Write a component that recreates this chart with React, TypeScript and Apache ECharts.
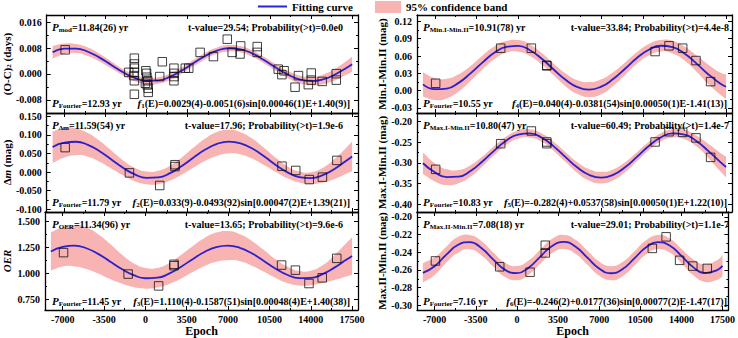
import React, { useEffect, useRef } from "react";
import * as echarts from "echarts";

const SERIF = '"Liberation Serif", "Times New Roman", Times, serif';
const CURVE_COLOR = "#2c1fcc";
const BAND_COLOR = "#f8b3b3";

// ---- fitted curves ----
const curveEpochs = [-8000, -7000, -6000, -5000, -4000, -3000, -2000, -1000, 0, 1000, 2000, 3000, 4000, 5000, 6000, 7000, 8000, 9000, 10000, 11000, 12000, 13000, 14000, 15000, 16000, 17000, 17500];

const fitOC = [0.00677, 0.00784, 0.00789, 0.0069, 0.00507, 0.0028, 0.00055, -0.00122, -0.00213, -0.00199, -0.00084, 0.00109, 0.0034, 0.0056, 0.00725, 0.00798, 0.00766, 0.00634, 0.00433, 0.002, -0.00013, -0.00164, -0.0022, -0.0017, -0.00025, 0.00186, 0.00303];
const bandOC = [0.0019, 0.0016, 0.0014, 0.0013, 0.0012, 0.0011, 0.001, 0.001, 0.001, 0.001, 0.001, 0.001, 0.001, 0.001, 0.001, 0.001, 0.001, 0.001, 0.001, 0.001, 0.0011, 0.0012, 0.0013, 0.0015, 0.0018, 0.0021, 0.0023];

const fitDm = [0.0674, 0.0797, 0.0818, 0.0734, 0.0562, 0.034, 0.0116, -0.0062, -0.0155, -0.0143, -0.0028, 0.0165, 0.0393, 0.0607, 0.0762, 0.0823, 0.0777, 0.0634, 0.0425, 0.0195, -0.0005, -0.0132, -0.016, -0.0081, 0.0087, 0.0308, 0.0423];
const bandDm = [0.042, 0.04, 0.036, 0.032, 0.028, 0.024, 0.02, 0.018, 0.017, 0.018, 0.02, 0.023, 0.027, 0.03, 0.032, 0.032, 0.03, 0.027, 0.023, 0.019, 0.016, 0.015, 0.016, 0.02, 0.027, 0.035, 0.04];

const fitOER = [1.2124, 1.2568, 1.2681, 1.2435, 1.1889, 1.1163, 1.0424, 0.9837, 0.9536, 0.9589, 0.9982, 1.063, 1.1381, 1.2071, 1.2542, 1.2685, 1.2472, 1.1947, 1.1232, 1.0487, 0.988, 0.9549, 0.9569, 0.9935, 1.0563, 1.1314, 1.1682];
const bandOER = [0.185, 0.19, 0.2, 0.2, 0.19, 0.17, 0.14, 0.115, 0.1, 0.095, 0.1, 0.115, 0.125, 0.135, 0.14, 0.14, 0.13, 0.12, 0.105, 0.09, 0.08, 0.07, 0.07, 0.085, 0.12, 0.16, 0.18];

const fitMinMin = [0.0108, 0.0026, 0.0036, 0.0135, 0.0299, 0.0487, 0.0655, 0.0759, 0.0776, 0.0701, 0.0552, 0.0366, 0.0188, 0.0062, 0.0019, 0.0069, 0.0201, 0.038, 0.0565, 0.0708, 0.0778, 0.0754, 0.0644, 0.0473, 0.0285, 0.0125, 0.0068];
const bandMinMin = [0.021, 0.019, 0.017, 0.015, 0.013, 0.012, 0.011, 0.01, 0.01, 0.01, 0.01, 0.01, 0.011, 0.012, 0.013, 0.013, 0.012, 0.011, 0.01, 0.01, 0.01, 0.011, 0.012, 0.014, 0.017, 0.019, 0.021];

const fitMaxMinI = [-0.301, -0.3228, -0.3345, -0.3334, -0.3198, -0.2968, -0.2703, -0.2466, -0.2316, -0.2289, -0.2393, -0.2601, -0.2862, -0.3114, -0.3293, -0.3357, -0.3289, -0.3107, -0.2854, -0.2593, -0.2387, -0.2288, -0.2319, -0.2472, -0.2711, -0.2976, -0.3099];
const bandMaxMinI = [0.026, 0.022, 0.019, 0.016, 0.014, 0.012, 0.011, 0.01, 0.01, 0.01, 0.01, 0.011, 0.012, 0.013, 0.014, 0.014, 0.013, 0.012, 0.011, 0.01, 0.01, 0.01, 0.011, 0.013, 0.017, 0.022, 0.025];

const fitMaxMinII = [-0.2633, -0.2557, -0.2426, -0.2315, -0.2285, -0.2355, -0.2483, -0.2599, -0.2636, -0.2574, -0.2448, -0.2328, -0.2283, -0.2338, -0.2461, -0.2584, -0.2637, -0.259, -0.2469, -0.2344, -0.2284, -0.2323, -0.244, -0.2568, -0.2635, -0.2604, -0.2554];
const bandMaxMinII = [0.011, 0.01, 0.009, 0.009, 0.008, 0.008, 0.008, 0.008, 0.008, 0.008, 0.008, 0.008, 0.008, 0.008, 0.008, 0.008, 0.008, 0.008, 0.008, 0.008, 0.008, 0.008, 0.008, 0.009, 0.01, 0.011, 0.012];

// ---- observations ----
const ocEpochs = [-6930, -1520, -1040, -1040, -1040, -1040, -1080, -1040, -1040, -60, 0, 20, -100, 60, 140, 140, 100, 1116, 1340, 2330, 2330, 2330, 2330, 3300, 3590, 4560, 5690, 6870, 7290, 7960, 8010, 9420, 9420, 11210, 11520, 11710, 12640, 12930, 13770, 14020, 14020, 14950, 16150, 16150];
const ocValues = [0.0075, 0.0005, 0.0049, 0.0031, 0.0018, 0.0005, -0.0005, -0.0021, -0.0063, 0.001, 0.0002, -0.001, -0.0029, -0.0034, -0.0044, -0.0057, -0.0021, -0.0008, 0.0038, 0.0018, 0.0002, -0.0008, -0.0021, 0.0018, 0.0018, 0.0067, 0.0054, 0.0108, 0.0067, 0.0062, 0.0087, 0.0085, 0.0067, 0.0015, -0.0002, 0.001, -0.0041, -0.0005, -0.0033, -0.0019, 0.0003, -0.0023, 0.0001, -0.0019];

const obsEpochs = [-6930, -1460, 1120, 2420, 2420, 11530, 12700, 13850, 14970, 16200];
const obsDm = [0.066, -0.002, -0.036, 0.015, 0.02, 0.016, 0.0045, -0.02, -0.0135, 0.0316];
const obsOER = [1.201, 0.994, 0.88, 1.075, 1.088, 1.081, 1.032, 0.903, 0.958, 1.146];
const obsMinMin = [0.0128, 0.0736, 0.0736, 0.0429, 0.044, 0.0678, 0.0777, 0.0736, 0.0522, 0.0157];
const obsMaxMinI = [-0.3157, -0.2537, -0.2231, -0.2496, -0.2537, -0.2496, -0.2248, -0.2264, -0.2397, -0.2868];
const obsMaxMinII = [-0.2498, -0.2564, -0.2625, -0.232, -0.2407, -0.2356, -0.2225, -0.2491, -0.2556, -0.2582];

// ---- ticks ----
const xMajorTicks = [-7000, -3500, 0, 3500, 7000, 10500, 14000, 17500];
const xMinorTicks = [-5250, -1750, 1750, 5250, 8750, 12250, 15750];
const ocTicks = [-0.008, 0, 0.008, 0.016];
const ocMinor = [-0.004, 0.004, 0.012];
const dmTicks = [-0.1, -0.05, 0, 0.05, 0.1, 0.15];
const dmMinor = [-0.075, -0.025, 0.025, 0.075, 0.125];
const oerTicks = [0.75, 1.0, 1.25, 1.5];
const oerMinor = [0.875, 1.125, 1.375];
const minMinTicks = [-0.03, 0, 0.03, 0.06, 0.09, 0.12];
const minMinMinor = [-0.015, 0.015, 0.045, 0.075, 0.105];
const maxMinITicks = [-0.4, -0.35, -0.3, -0.25, -0.2];
const maxMinIMinor = [-0.375, -0.325, -0.275, -0.225];
const maxMinIITicks = [-0.3, -0.28, -0.26, -0.24, -0.22, -0.2];
const maxMinIIMinor = [-0.29, -0.27, -0.25, -0.23, -0.21];

const X_MIN = -8500;
const X_MAX = 18000;

const LX = 43;
const RX = 417;
const GW = 315;
const ROWS = [
  { top: 15, height: 98 },
  { top: 113, height: 99 },
  { top: 212, height: 99 },
];

const panels = [
  {
    col: LX, row: 0, yMin: -0.0121, yMax: 0.0183, major: ocTicks, minor: ocMinor, dec: 3,
    yName: "(O-C){s|2} (days)", nameGap: 32, fit: fitOC, hw: bandOC, ox: ocEpochs, oy: ocValues,
    tl: "{i|P}{s|mod}=11.84(26) yr", tr: "t-value=29.54; Probability(>t)=0.0e0",
    bl: "{i|P}{s|Fourier}=12.93 yr", br: "{i|f}{s|1}(E)=0.0029(4)-0.0051(6)sin[0.00046(1)E+1.40(9)]",
  },
  {
    col: LX, row: 1, yMin: -0.1073, yMax: 0.1592, major: dmTicks, minor: dmMinor, dec: 3,
    yName: "Δ{i|m} (mag)", nameGap: 32, fit: fitDm, hw: bandDm, ox: obsEpochs, oy: obsDm,
    tl: "{i|P}{s|Δm}=11.59(54) yr", tr: "t-value=17.96; Probability(>t)=1.9e-6",
    bl: "{i|P}{s|Fourier}=11.79 yr", br: "{i|f}{s|2}(E)=0.033(9)-0.0493(92)sin[0.00047(2)E+1.39(21)]",
  },
  {
    col: LX, row: 2, yMin: 0.6475, yMax: 1.593, major: oerTicks, minor: oerMinor, dec: 3,
    yName: "{i|OER}", nameGap: 32, fit: fitOER, hw: bandOER, ox: obsEpochs, oy: obsOER,
    tl: "{i|P}{s|OER}=11.34(96) yr", tr: "t-value=13.65; Probability(>t)=9.6e-6",
    bl: "{i|P}{s|Fourier}=11.45 yr", br: "{i|f}{s|3}(E)=1.110(4)-0.1587(51)sin[0.00048(4)E+1.40(38)]",
  },
  {
    col: RX, row: 0, yMin: -0.0387, yMax: 0.1311, major: minMinTicks, minor: minMinMinor, dec: 2,
    yName: "Min.I-Min.II (mag)", nameGap: 25, fit: fitMinMin, hw: bandMinMin, ox: obsEpochs, oy: obsMinMin,
    tl: "{i|P}{s|Min.I-Min.II}=10.91(78) yr", tr: "t-value=33.84; Probability(>t)=4.4e-8",
    bl: "{i|P}{s|Fourier}=10.55 yr", br: "{i|f}{s|4}(E)=0.040(4)-0.0381(54)sin[0.00050(1)E-1.41(13)]",
  },
  {
    col: RX, row: 1, yMin: -0.4187, yMax: -0.1796, major: maxMinITicks, minor: maxMinIMinor, dec: 2,
    yName: "Max.I-Min.II (mag)", nameGap: 25, fit: fitMaxMinI, hw: bandMaxMinI, ox: obsEpochs, oy: obsMaxMinI,
    tl: "{i|P}{s|Max.I-Min.II}=10.80(47) yr", tr: "t-value=60.49; Probability(>t)=1.4e-7",
    bl: "{i|P}{s|Fourier}=10.83 yr", br: "{i|f}{s|5}(E)=-0.282(4)+0.0537(58)sin[0.00050(1)E+1.22(10)]",
  },
  {
    col: RX, row: 2, yMin: -0.3053, yMax: -0.1944, major: maxMinIITicks, minor: maxMinIIMinor, dec: 2,
    yName: "Max.II-Min.II (mag)", nameGap: 25, fit: fitMaxMinII, hw: bandMaxMinII, ox: obsEpochs, oy: obsMaxMinII,
    tl: "{i|P}{s|Max.II-Min.II}=7.08(18) yr", tr: "t-value=29.01; Probability(>t)=1.1e-7",
    bl: "{i|P}{s|Fourier}=7.16 yr", br: "{i|f}{s|6}(E)=-0.246(2)+0.0177(36)sin[0.00077(2)E-1.47(17)]",
  },
];

const labelRich = {
  i: { fontFamily: SERIF, fontWeight: "bold", fontStyle: "italic", fontSize: 11, lineHeight: 13, color: "#000" },
  s: { fontFamily: SERIF, fontWeight: "bold", fontSize: 7, lineHeight: 6, verticalAlign: "bottom", color: "#000" },
};

function buildOption() {
  const grid: any[] = [];
  const xAxis: any[] = [];
  const yAxis: any[] = [];
  const series: any[] = [];
  const graphic: any[] = [];

  panels.forEach((p, gi) => {
    const r = ROWS[p.row];
    grid.push({ left: p.col, top: r.top, width: GW, height: r.height, containLabel: false });
    const isBottom = p.row === 2;
    const mkX = (pos: string, ticks: number[], len: number, line: boolean, label: boolean) => ({
      type: "value", gridIndex: gi, min: X_MIN, max: X_MAX, position: pos,
      axisLine: { show: line, onZero: false, lineStyle: { color: "#000", width: 1.3 } },
      axisTick: { show: true, inside: true, length: len, customValues: ticks, lineStyle: { color: "#000", width: 1 } },
      axisLabel: {
        show: label, customValues: ticks, formatter: (v: number) => String(v),
        fontFamily: SERIF, fontWeight: "bold", fontSize: 10, color: "#000", margin: 4,
      },
      splitLine: { show: false },
      name: label ? "Epoch" : "",
      nameLocation: "middle", nameGap: 15,
      nameTextStyle: { fontFamily: SERIF, fontWeight: "bold", fontSize: 12, color: "#000" },
    });
    xAxis.push(mkX("bottom", xMajorTicks, 4, true, isBottom));
    xAxis.push(mkX("bottom", xMinorTicks, 2, false, false));
    xAxis.push(mkX("top", xMajorTicks, 4, true, false));
    xAxis.push(mkX("top", xMinorTicks, 2, false, false));

    const mkY = (pos: string, ticks: number[], len: number, line: boolean, label: boolean) => ({
      type: "value", gridIndex: gi, min: p.yMin, max: p.yMax, position: pos,
      axisLine: { show: line, onZero: false, lineStyle: { color: "#000", width: 1.3 } },
      axisTick: { show: true, inside: true, length: len, customValues: ticks, lineStyle: { color: "#000", width: 1 } },
      axisLabel: {
        show: label, customValues: ticks, formatter: (v: number) => v.toFixed(p.dec),
        fontFamily: SERIF, fontWeight: "bold", fontSize: 10, color: "#000", margin: 5,
      },
      splitLine: { show: false },
      name: label ? p.yName : "",
      nameLocation: "middle", nameGap: p.nameGap,
      nameTextStyle: { fontFamily: SERIF, fontWeight: "bold", fontSize: 11, color: "#000", rich: labelRich },
    });
    yAxis.push(mkY("left", p.major, 4, true, true));
    yAxis.push(mkY("left", p.minor, 2, false, false));
    yAxis.push(mkY("right", p.major, 4, true, false));
    yAxis.push(mkY("right", p.minor, 2, false, false));

    const ax = gi * 4;
    series.push({
      type: "custom", name: "95% confidence band", xAxisIndex: ax, yAxisIndex: ax,
      data: [[curveEpochs[0], p.fit[0]]], clip: true, silent: true, z: 1,
      itemStyle: { color: BAND_COLOR },
      renderItem: (_params: any, api: any) => {
        const up = curveEpochs.map((e, k) => api.coord([e, p.fit[k] + p.hw[k]]));
        const lo = curveEpochs.map((e, k) => api.coord([e, p.fit[k] - p.hw[k]])).reverse();
        const pts = [...up, up[up.length - 1], lo[0], ...lo, lo[lo.length - 1], up[0]];
        return {
          type: "polygon",
          shape: { points: pts, smooth: 0.5 },
          style: { fill: BAND_COLOR, stroke: "none" },
        };
      },
    });
    series.push({
      type: "line", name: "Fitting curve", xAxisIndex: ax, yAxisIndex: ax,
      data: curveEpochs.map((e, k) => [e, p.fit[k]]), smooth: true, symbol: "none",
      lineStyle: { color: CURVE_COLOR, width: 1.8 }, itemStyle: { color: CURVE_COLOR }, z: 3,
    });
    series.push({
      type: "scatter", name: "obs" + gi, xAxisIndex: ax, yAxisIndex: ax,
      data: p.ox.map((e, k) => [e, p.oy[k]]), symbol: "rect", symbolSize: 8.5,
      itemStyle: { color: "rgba(0,0,0,0)", borderColor: "#111", borderWidth: 1 }, z: 4,
    });

    const left = p.col;
    const right = p.col + GW;
    const isLeftCol = p.col === LX;
    const topY = r.top + 12;
    const botY = r.top + r.height - 10;
    const font = `bold 10px ${SERIF}`;
    const txt = (x: number, y: number, text: string, align: string) => ({
      type: "text", x, y, z: 50,
      style: { text, rich: labelRich, font, fill: "#000", align, verticalAlign: "middle", lineHeight: 13 },
    });
    graphic.push(txt(left + (isLeftCol ? 9 : 6), topY, p.tl, "left"));
    graphic.push(txt(right - (isLeftCol ? 15 : 3), topY, p.tr, "right"));
    graphic.push(txt(left + (isLeftCol ? 9 : 6), botY, p.bl, "left"));
    graphic.push(txt(right - (isLeftCol ? 8 : 5), botY, p.br, "right"));
  });

  const legendText = { fontFamily: SERIF, fontWeight: "bold", fontSize: 11, color: "#000" };
  return {
    animation: false,
    backgroundColor: "#fff",
    grid,
    xAxis,
    yAxis,
    series,
    graphic,
    legend: [
      { left: 258, top: 0, padding: [1, 0, 0, 0], itemWidth: 29, itemHeight: 2, icon: "rect", itemGap: 4,
        selectedMode: false, data: [{ name: "Fitting curve", itemStyle: { color: "#2424e0" } }], textStyle: legendText },
      { left: 375, top: 0, padding: [1, 0, 0, 0], itemWidth: 26, itemHeight: 12, icon: "rect", itemGap: 4,
        selectedMode: false, data: [{ name: "95% confidence band", itemStyle: { color: BAND_COLOR } }], textStyle: legendText },
    ],
  };
}

export default function App() {
  const ref = useRef<HTMLDivElement>(null);
  useEffect(() => {
    if (!ref.current) return;
    const chart = echarts.init(ref.current, undefined, { renderer: "svg" });
    chart.setOption(buildOption() as any);
    return () => chart.dispose();
  }, []);
  return <div ref={ref} style={{ position: "absolute", left: 0, top: 0, width: 738, height: 338, background: "#fff" }} />;
}
